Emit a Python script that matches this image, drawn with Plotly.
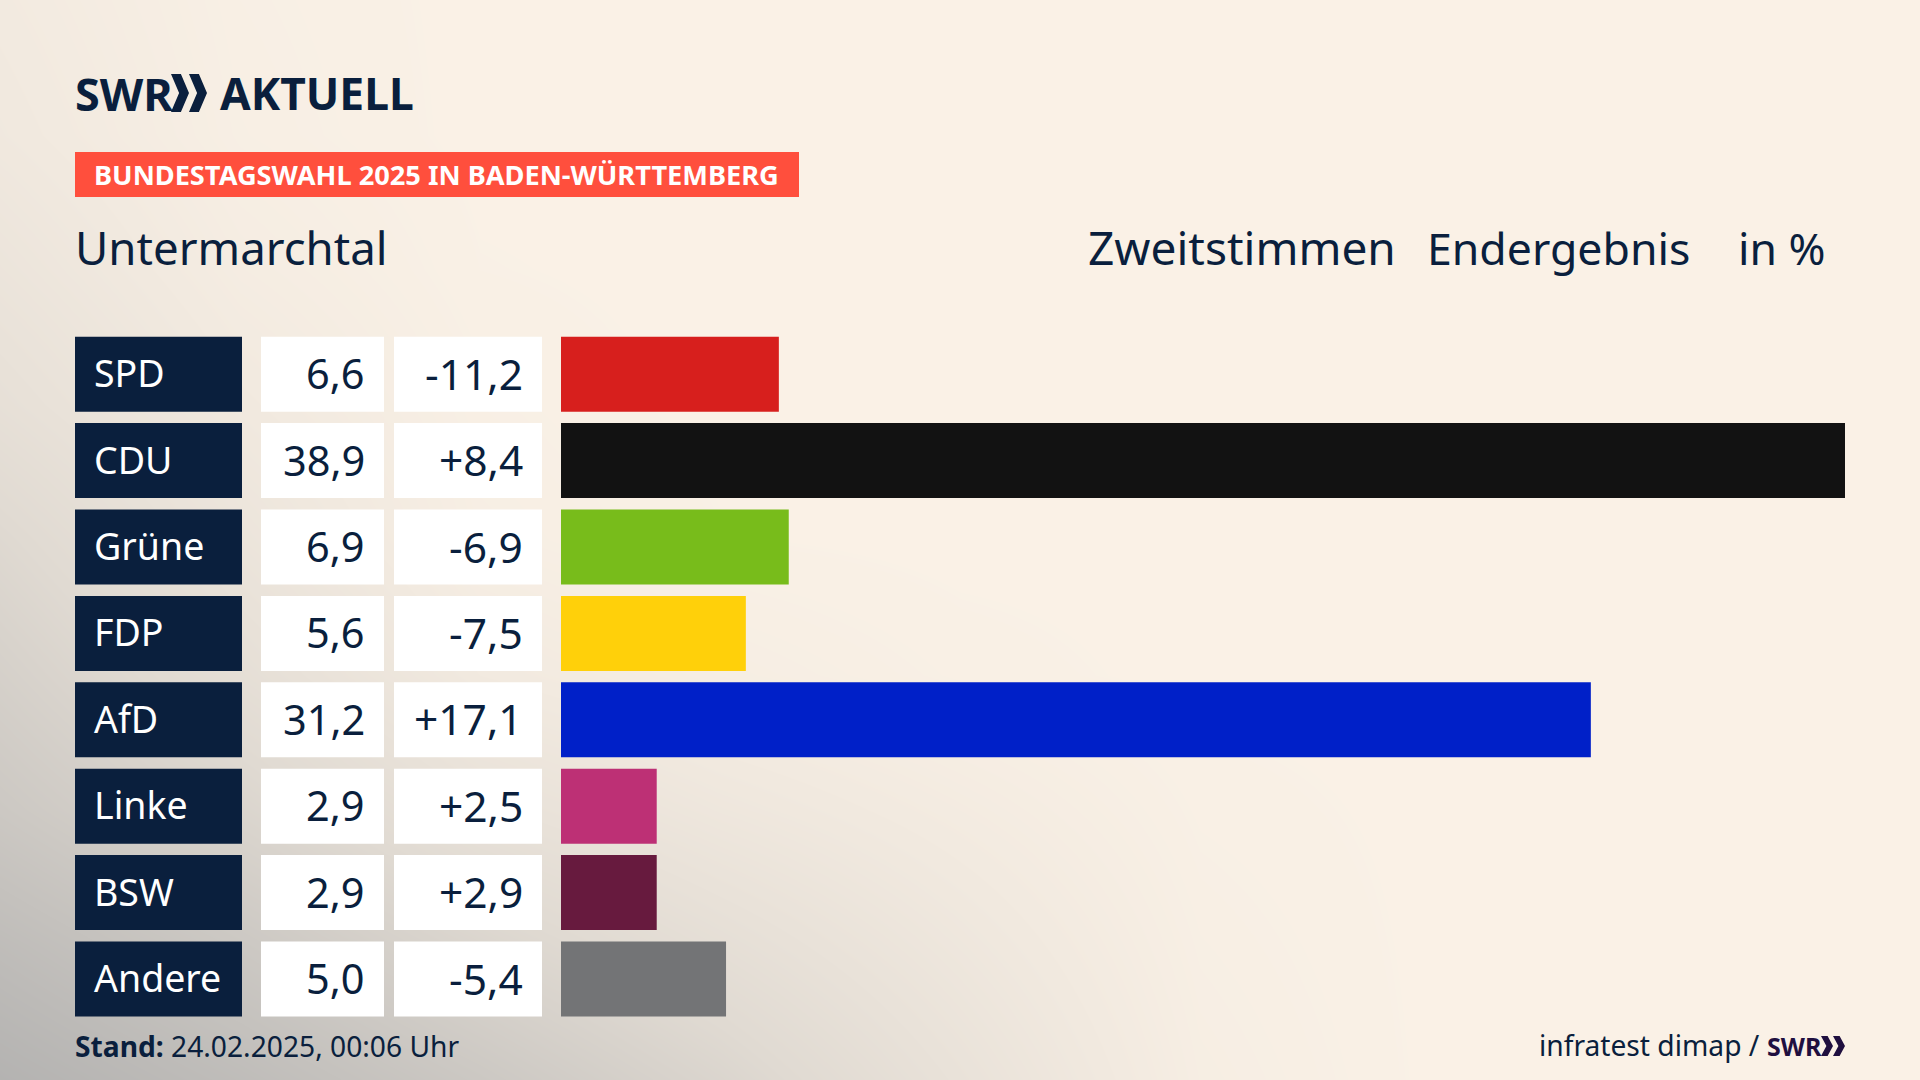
import plotly.graph_objects as go

# values as printed in the graphic
parties = ["SPD", "CDU", "Grüne", "FDP", "AfD", "Linke", "BSW", "Andere"]
shares = [6.6, 38.9, 6.9, 5.6, 31.2, 2.9, 2.9, 5.0]
share_labels = ["6,6", "38,9", "6,9", "5,6", "31,2", "2,9", "2,9", "5,0"]
change_labels = ["-11,2", "+8,4", "-6,9", "-7,5", "+17,1", "+2,5", "+2,9", "-5,4"]
bar_colors = ["#D71F1D", "#121212", "#78BC1B", "#FFD00A", "#0020C8", "#BD3075", "#671A3E", "#737476"]

# backdrop: how grey the background is, estimated on a coarse grid
bg_x = [0, 240, 480, 720, 960, 1200, 1440, 1680, 1920]
bg_y = [0, 135, 270, 405, 540, 675, 810, 945, 1080]
bg_shade = [
    [0.12, 0.03, 0.00, 0.00, 0.00, 0.00, 0.00, 0.00, 0.00],
    [0.15, 0.04, 0.00, 0.00, 0.00, 0.00, 0.00, 0.00, 0.00],
    [0.22, 0.08, 0.01, 0.00, 0.00, 0.00, 0.00, 0.00, 0.00],
    [0.30, 0.14, 0.03, 0.00, 0.00, 0.00, 0.00, 0.00, 0.00],
    [0.42, 0.22, 0.05, 0.01, 0.00, 0.00, 0.00, 0.00, 0.00],
    [0.52, 0.32, 0.13, 0.06, 0.02, 0.00, 0.00, 0.00, 0.00],
    [0.62, 0.46, 0.28, 0.18, 0.10, 0.02, 0.00, 0.00, 0.00],
    [0.76, 0.62, 0.46, 0.32, 0.18, 0.04, 0.00, 0.00, 0.00],
    [0.88, 0.76, 0.62, 0.46, 0.26, 0.06, 0.00, 0.00, 0.00],
]

W, H = 1920, 1080
NAVY = "#0A1F3D"
PURPLE = "#1F0F3F"
FONT = "Noto Sans"


def px(x):
    return x / W


def py(y):
    return 1 - y / H


fig = go.Figure()

# full-page backdrop sits on the first axes so everything else draws above it
fig.add_trace(go.Heatmap(
    x=bg_x, y=bg_y, z=bg_shade, zmin=0, zmax=1, zsmooth="best", showscale=False, hoverinfo="skip",
    colorscale=[[0, "#FAF1E6"], [0.4, "#E0DAD2"], [1, "#A9A9A9"]],
    xaxis="x", yaxis="y",
))
fig.add_trace(go.Bar(
    x=shares, y=parties, orientation="h", marker_color=bar_colors, marker_line_width=0,
    xaxis="x2", yaxis="y2", hovertemplate="%{y}: %{x}<extra></extra>",
))

fig.update_layout(
    width=W, height=H, margin=dict(l=0, r=0, t=0, b=0),
    showlegend=False, bargap=0.132, paper_bgcolor="#FAF1E6", plot_bgcolor="rgba(0,0,0,0)",
    font=dict(family=FONT, color=NAVY),
    xaxis=dict(domain=[0, 1], range=[0, 1920], visible=False),
    yaxis=dict(domain=[0, 1], range=[1080, 0], visible=False),
    xaxis2=dict(domain=[px(561), px(1845)], range=[0, 38.9], visible=False, anchor="y2"),
    yaxis2=dict(domain=[py(1022.2), py(331)], autorange="reversed", visible=False, anchor="x2",
                type="category", categoryorder="array", categoryarray=parties),
)

half = 0.434
for i, party in enumerate(parties):
    for x0, x1, fill in [(75, 242, NAVY), (261, 384, "white"), (394, 542, "white")]:
        fig.add_shape(type="rect", xref="paper", yref="y2", x0=px(x0), x1=px(x1),
                      y0=i - half, y1=i + half, fillcolor=fill, line_width=0)
    fig.add_annotation(xref="paper", yref="y2", x=px(92), y=i, text=party, showarrow=False, yshift=1.5,
                       xanchor="left", font=dict(size=37.5, color="white"))
    fig.add_annotation(xref="paper", yref="y2", x=px(367), y=i, text=share_labels[i], showarrow=False, yshift=1,
                       xanchor="right", font=dict(size=41.5))
    fig.add_annotation(xref="paper", yref="y2", x=px(525), y=i, text=change_labels[i], showarrow=False, yshift=1,
                       xanchor="right", font=dict(size=42.5))


def label(x, y, text, size, color=NAVY):
    fig.add_annotation(xref="paper", yref="paper", x=px(x), y=py(y), text=text, showarrow=False,
                       xanchor="left", yanchor="middle", font=dict(size=size, color=color))


def chevrons(x, y, w, h, color):
    # the two arrows of the SWR logo
    cw = w / 2
    path = ""
    for a in (x, x + cw):
        path += (f"M{px(a)},{py(y)} L{px(a + cw * 0.55)},{py(y)} L{px(a + cw)},{py(y + h / 2)} "
                 f"L{px(a + cw * 0.55)},{py(y + h)} L{px(a)},{py(y + h)} L{px(a + cw * 0.45)},{py(y + h / 2)} Z ")
    fig.add_shape(type="path", xref="paper", yref="paper", path=path, fillcolor=color, line_width=0)


# header
label(73, 93, "<b>SWR</b>", 45)
chevrons(171, 74, 36, 38, NAVY)
label(218, 93, "<b>AKTUELL</b>", 44.4)
fig.add_shape(type="rect", xref="paper", yref="paper", x0=px(75), x1=px(799), y0=py(152), y1=py(197),
              fillcolor="#FF4F3D", line_width=0)
label(92, 174.5, "<b>BUNDESTAGSWAHL 2025 IN BADEN-WÜRTTEMBERG</b>", 27.2, color="#FFFFFF")
label(72.5, 247, "Untermarchtal", 45.6)
label(1086, 247, "Zweitstimmen", 46)
label(1424.5, 247, "Endergebnis", 44.6)
label(1736, 247, "in %", 44.5)

# footer
label(72.5, 1046, "<b>Stand:</b> 24.02.2025, 00:06 Uhr", 28.2)
label(1536.5, 1045, "infratest dimap /", 28.2)
label(1765, 1046, "<b>SWR</b>", 25, color=PURPLE)
chevrons(1821, 1036, 24, 20, PURPLE)

fig.write_html("out.html", post_script="document.body.style.margin='0';", config={"displayModeBar": False})
